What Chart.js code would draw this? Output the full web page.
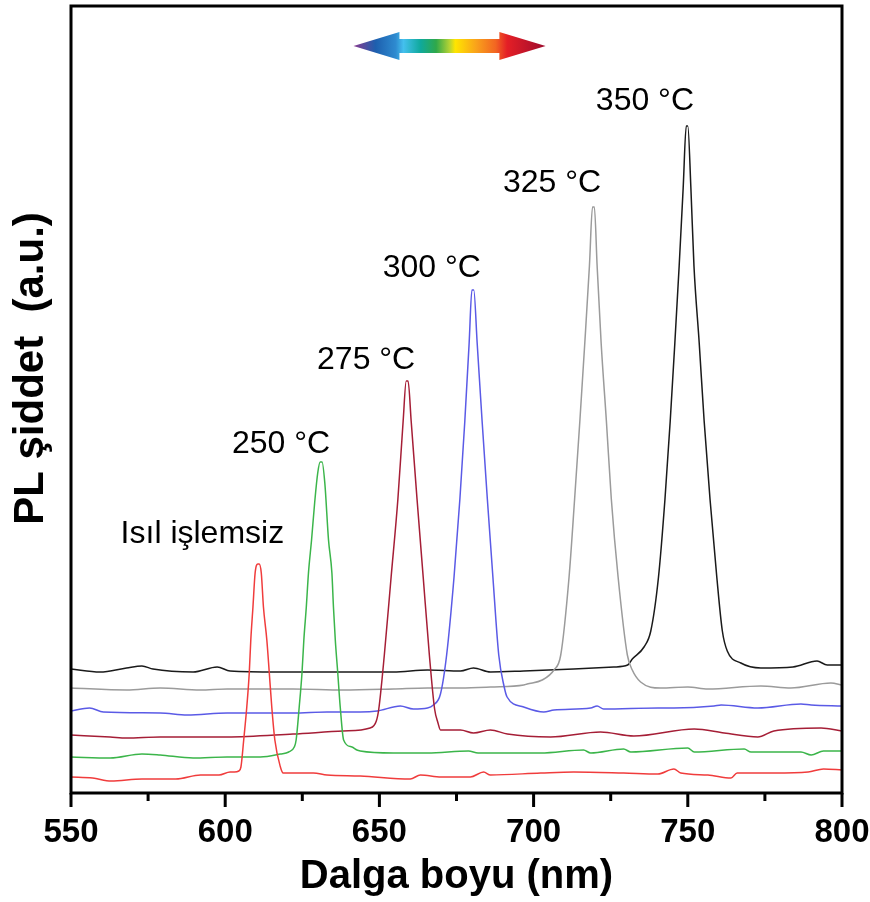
<!DOCTYPE html>
<html>
<head>
<meta charset="utf-8">
<title>PL spektrumları</title>
<script src="https://cdn.jsdelivr.net/npm/chart.js@4.4.1/dist/chart.umd.min.js"></script>
<style>
  html, body { margin: 0; padding: 0; background: #fff; }
  #wrap { width: 870px; height: 902px; }
</style>
</head>
<body>
<div id="wrap"><canvas id="pl" width="870" height="902"></canvas></div>
<script>
// PL spectra after annealing, stacked (a.u.)
const untreated = [[550,16],[557,15],[563,12],[573,14],[584,14],[592,18],[598,18],[601.6,21],[603,21],[604.4,22],[605.1,26],[606,53],[607,86],[607.8,120],[608.3,153],[609,186],[609.7,220],[610.6,229],[611,229],[611.7,220],[612.4,186],[613.5,153],[614.3,120],[615.1,86],[616.1,53],[617.9,26],[618.8,20],[628.6,20],[633,18],[643.8,17],[660,14],[663.3,18],[670,16],[679.5,16],[683.8,21],[686,18],[702.3,20],[713,21],[729.2,20],[740.3,19],[745.5,24],[747.7,20],[756.5,18],[764,15],[766,20],[778,20],[789,21],[794,24],[800,23]];
const t250 = [[550,36],[562.7,35],[573,39],[578.9,38],[589.6,35],[600.6,36],[611.4,36],[617.9,39],[620.6,41],[622.4,46],[623,53],[624,86],[624.9,120],[625.5,153],[626.3,186],[627,220],[628,253],[629,290],[630,320],[630.8,331],[631.4,331],[632.3,310],[633.5,253],[634.6,220],[635.1,186],[635.7,153],[636.5,120],[637.3,86],[638.4,53],[641.1,46],[642.7,43],[643.8,42],[654.5,40],[665.6,40],[678.9,42],[682,40],[702.3,40],[716.2,43],[718.5,40],[729.2,44],[731.5,41],[750,45],[752.1,41],[768.3,44],[770.5,41],[786.7,41],[790,38],[794,42],[800,42]];
const t275 = [[550,58],[562.7,56],[568,55],[578.9,56],[600.6,56],[622,59],[638.3,62],[647,65],[649,72],[649.8,84],[651.6,138],[653.8,216],[656,294],[657.7,372],[658.7,412],[659.3,412],[660.3,372],[662.2,294],[664.2,216],[666.2,138],[667.9,84],[669,70],[669.8,63],[676.3,63],[680.5,60],[686,63],[691.5,59],[705.5,56],[721.7,61],[732.5,57],[752.1,64],[761.8,60],[772.7,56],[777.9,62],[793.2,65],[800,62]];
const t300 = [[550,82],[556,85],[560.5,81],[578.9,80],[587.7,78],[600.6,80],[622,80],[633,81],[643.8,81],[649.3,82],[656.8,87],[661,84],[665.6,85],[667.5,88],[669.8,99],[671.8,138],[674.2,216],[676.1,294],[677.7,372],[679.1,450],[680,503],[680.6,503],[681.7,450],[683.3,372],[685,294],[686.8,216],[688.7,138],[690.4,107],[691.4,96],[696.8,86],[703.3,81],[706.6,83],[718.5,85],[720.6,87],[722.7,84],[740.3,85],[745.5,85],[758.5,87],[760.8,88],[772.7,85],[786.7,89],[790,88],[800,87]];
const t325 = [[550,105],[568,103],[578.9,105],[591.9,103],[600.6,104],[622,104],[638.3,103],[654.5,104],[665.6,105],[676.3,105],[686,106],[696.8,108],[697.9,109],[702.8,113],[706.6,123],[708.8,138],[711.5,216],[713.3,294],[715,372],[716.6,450],[718.1,527],[719.1,586],[719.7,586],[720.6,527],[721.9,450],[723.6,372],[725.2,294],[727.4,216],[730.4,138],[732,123],[734.7,111],[741.2,105],[750,106],[756.5,104],[773.7,107],[783.4,105],[796.4,110],[800,108]];
const t350 = [[550,124],[559.4,121],[568,125],[573,127],[576.6,124],[589.6,121],[597.4,126],[601.6,122],[616.9,121],[633,121],[654.5,121],[665.6,123],[676.3,122],[680.5,125],[686,121],[696.8,122],[713,124],[726,126],[730.5,128],[732,134],[735.8,146],[738,162],[740.5,216],[742.6,294],[744.3,372],[745.8,450],[747.2,527],[748.5,605],[749.5,667],[750,667],[751,605],[752,527],[753.7,450],[755.3,372],[757.2,294],[759.4,216],[761.2,162],[762.8,142],[767.2,130],[773.7,125],[784.1,126],[791.9,132],[795.2,128],[800,128]];

const seriesNames = ['Isıl işlemsiz', '250 °C', '275 °C', '300 °C', '325 °C', '350 °C'];
const seriesColors = ['#f03c3c', '#3bb54a', '#a51e36', '#5a5ae6', '#9b9b9b', '#1a1a1a'];
const labelNm = [592.6, 618.1, 645.7, 667.0, 706.0, 736.1];
const labelAu = [250, 340, 424, 516, 601, 683];

const xMajor = [550, 600, 650, 700, 750, 800];
const xMinor = [575, 625, 675, 725, 775];

const FONT = '"Liberation Sans", Arial, Helvetica, sans-serif';

const decor = {
  id: 'decor',
  afterDatasetsDraw(chart) {
    const { ctx, chartArea: a, scales: { x, y } } = chart;
    ctx.save();
    // frame
    ctx.strokeStyle = '#000';
    ctx.lineWidth = 3;
    ctx.strokeRect(a.left, a.top, a.right - a.left, a.bottom - a.top);
    // outward tick marks
    ctx.beginPath();
    xMajor.forEach((v) => { const px = x.getPixelForValue(v); ctx.moveTo(px, a.bottom); ctx.lineTo(px, a.bottom + 14); });
    xMinor.forEach((v) => { const px = x.getPixelForValue(v); ctx.moveTo(px, a.bottom); ctx.lineTo(px, a.bottom + 8); });
    ctx.stroke();

    // peak labels
    ctx.fillStyle = '#000';
    ctx.font = `32px ${FONT}`;
    ctx.textAlign = 'center';
    ctx.textBaseline = 'alphabetic';
    seriesNames.forEach((t, i) => ctx.fillText(t, x.getPixelForValue(labelNm[i]), y.getPixelForValue(labelAu[i])));

    // y title
    ctx.save();
    ctx.translate(a.left - 40, (a.top + a.bottom) / 2 - 31);
    ctx.rotate(-Math.PI / 2);
    ctx.font = `bold 42px ${FONT}`;
    ctx.textBaseline = 'middle';
    ctx.fillText('PL şiddet  (a.u.)', 0, 0);
    ctx.restore();

    // rainbow double arrow
    const x0 = x.getPixelForValue(641.6), x1 = x.getPixelForValue(703.9);
    const xl = x.getPixelForValue(656.5), xr = x.getPixelForValue(688.9);
    const cy = y.getPixelForValue(747);
    const g = ctx.createLinearGradient(x0, 0, x1, 0);
    [[0, '#8a3a8f'], [0.115, '#1d5fae'], [0.22, '#2e8bd0'], [0.26, '#44c0ee'], [0.35, '#0fa99b'],
     [0.43, '#2fa84a'], [0.5, '#b5d334'], [0.53, '#ffe500'], [0.64, '#f9a11b'], [0.74, '#f26522'],
     [0.8, '#e41f26'], [1, '#9e0b2d']].forEach(([p, c]) => g.addColorStop(p, c));
    ctx.fillStyle = g;
    ctx.beginPath();
    ctx.moveTo(x0, cy);
    ctx.lineTo(xl, cy - 14); ctx.lineTo(xl, cy - 7); ctx.lineTo(xr, cy - 7); ctx.lineTo(xr, cy - 14);
    ctx.lineTo(x1, cy);
    ctx.lineTo(xr, cy + 14); ctx.lineTo(xr, cy + 7); ctx.lineTo(xl, cy + 7); ctx.lineTo(xl, cy + 14);
    ctx.closePath();
    ctx.fill();
    ctx.restore();
  }
};

const spectra = [untreated, t250, t275, t300, t325, t350];

new Chart(document.getElementById('pl'), {
  type: 'line',
  data: {
    datasets: spectra.map((s, i) => ({
      label: seriesNames[i],
      data: s.map(([nm, v]) => ({ x: nm, y: v })),
      borderColor: seriesColors[i],
      borderWidth: 1.5,
      pointRadius: 0,
      cubicInterpolationMode: 'monotone',
      fill: false,
    })),
  },
  options: {
    responsive: false,
    animation: false,
    events: [],
    layout: { padding: { left: 71, right: 28, top: 6, bottom: 0 } },
    plugins: { legend: { display: false }, tooltip: { enabled: false } },
    scales: {
      x: {
        type: 'linear', min: 550, max: 800,
        grid: { display: false, drawTicks: false },
        border: { display: false },
        afterFit: (s) => { s.height = 109; s.paddingLeft = 0; s.paddingRight = 0; },
        ticks: {
          stepSize: 25, autoSkip: false, maxRotation: 0, padding: 20, color: '#000',
          font: { family: FONT, size: 33, weight: 'bold' },
          callback: (v) => (v % 50 === 0 ? String(v) : ''),
        },
        title: {
          display: true, text: 'Dalga boyu (nm)', color: '#000',
          font: { family: FONT, size: 40, weight: 'bold' },
          padding: { top: 0, bottom: 1 },
        },
      },
      y: { display: false, min: 0, max: 787 },
    },
  },
  plugins: [decor],
});
</script>
</body>
</html>
